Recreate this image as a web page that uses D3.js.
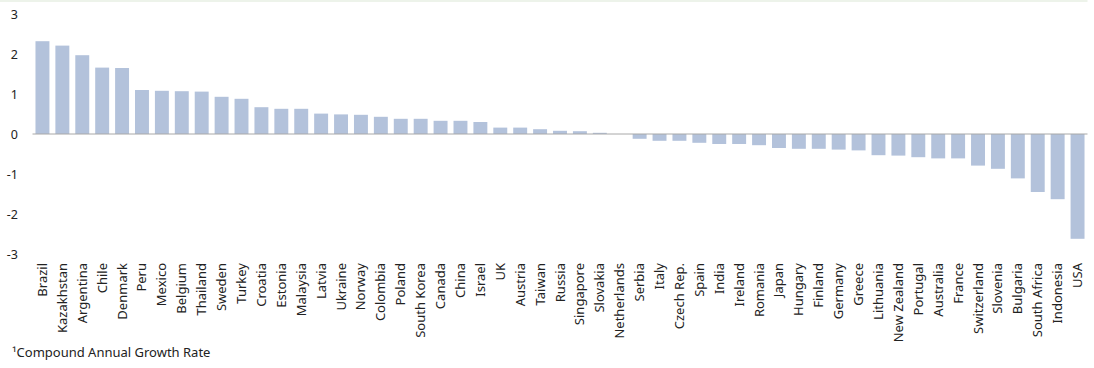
<!DOCTYPE html>
<html>
<head>
<meta charset="utf-8">
<script src="https://cdn.jsdelivr.net/npm/d3@7"></script>
<style>
  body { margin: 0; background: #fff; }
  text { font-family: "Noto Sans", "DejaVu Sans", sans-serif; fill: #222; }
</style>
</head>
<body>
<div id="chart"></div>
<script>
let countries = ['Brazil', 'Kazakhstan', 'Argentina', 'Chile', 'Denmark', 'Peru', 'Mexico', 'Belgium', 'Thailand', 'Sweden',
  'Turkey', 'Croatia', 'Estonia', 'Malaysia', 'Latvia', 'Ukraine', 'Norway', 'Colombia', 'Poland', 'South Korea',
  'Canada', 'China', 'Israel', 'UK', 'Austria', 'Taiwan', 'Russia', 'Singapore', 'Slovakia', 'Netherlands',
  'Serbia', 'Italy', 'Czech Rep.', 'Spain', 'India', 'Ireland', 'Romania', 'Japan', 'Hungary', 'Finland',
  'Germany', 'Greece', 'Lithuania', 'New Zealand', 'Portugal', 'Australia', 'France', 'Switzerland', 'Slovenia', 'Bulgaria',
  'South Africa', 'Indonesia', 'USA']

let cagr = [2.32, 2.21, 1.97, 1.66, 1.65, 1.10, 1.08, 1.07, 1.06, 0.93,
  0.88, 0.67, 0.63, 0.63, 0.51, 0.49, 0.48, 0.43, 0.38, 0.38,
  0.33, 0.33, 0.30, 0.16, 0.16, 0.12, 0.08, 0.07, 0.03, 0.00,
  -0.12, -0.17, -0.17, -0.22, -0.25, -0.25, -0.28, -0.35, -0.37, -0.37,
  -0.39, -0.41, -0.53, -0.54, -0.58, -0.61, -0.61, -0.79, -0.87, -1.11,
  -1.45, -1.63, -2.62]

let yTicks = [3, 2, 1, 0, -1, -2, -3]
let footnote = '\u00b9Compound Annual Growth Rate'

let width = 1094,
  height = 368,
  plotLeft = 32.5,
  plotRight = 1087.5,
  plotTop = 14, // y position of 3
  plotBottom = 254, // y position of -3
  barColor = '#b3c2db'

let data = countries.map((c, i) => ({ name: c, value: cagr[i] }))

let x = d3.scaleBand()
  .domain(countries)
  .range([plotLeft, plotRight])
  .paddingInner(0.3)
  .paddingOuter(0.15)

let y = d3.scaleLinear()
  .domain([-3, 3])
  .range([plotBottom, plotTop])

let svg = d3.select('#chart').append('svg')
  .attr('width', width)
  .attr('height', height)

// thin strip along the top
svg.append('rect')
  .attr('x', 0)
  .attr('y', 0)
  .attr('width', plotRight)
  .attr('height', 2)
  .attr('fill', '#edf3ea')

// bars
svg.append('g').selectAll('rect')
  .data(data)
  .enter().append('rect')
  .attr('x', d => x(d.name))
  .attr('y', d => y(Math.max(0, d.value)))
  .attr('width', x.bandwidth())
  .attr('height', d => Math.abs(y(d.value) - y(0)))
  .attr('fill', barColor)

// zero line
svg.append('line')
  .attr('x1', plotLeft)
  .attr('x2', plotRight)
  .attr('y1', y(0))
  .attr('y2', y(0))
  .attr('stroke', '#a8a8a8')
  .attr('stroke-width', 1)

// y axis labels (plain hyphen for negatives, like the original)
let yAxis = d3.axisLeft(y)
  .tickValues(yTicks)
  .tickSize(0)
  .tickPadding(0)
  .tickFormat(d => String(d))

svg.append('g')
  .attr('transform', 'translate(18,0)')
  .call(yAxis)
  .call(g => g.select('.domain').remove())
  .selectAll('text')
  .attr('font-size', '12.5px')
  .style('font-family', '"Noto Sans", sans-serif')
  .attr('fill', '#222')

// category labels, rotated
svg.append('g').selectAll('.cat-label')
  .data(data)
  .enter().append('text')
  .attr('class', 'cat-label')
  .attr('transform', d => 'translate(' + (x(d.name) + x.bandwidth() / 2 + 4.5) + ',' + 263 + ') rotate(-90)')
  .attr('text-anchor', 'end')
  .attr('font-size', '13px')
  .text(d => d.name)

// footnote
svg.append('text')
  .attr('x', 12)
  .attr('y', 357)
  .attr('font-size', '13px')
  .attr('fill', '#333')
  .text(footnote)
</script>
</body>
</html>
